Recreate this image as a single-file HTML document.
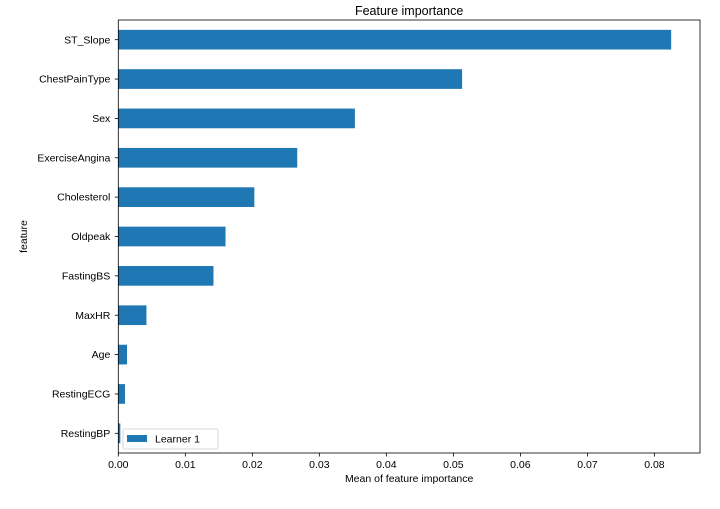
<!DOCTYPE html>
<html><head><meta charset="utf-8"><style>
body{margin:0;background:#fff}
svg{font-family:"Liberation Sans","DejaVu Sans",sans-serif}
</style></head><body>
<svg id="chart" width="720" height="504" viewBox="0 0 720 504"></svg>
<script>
const categories=["ST_Slope","ChestPainType","Sex","ExerciseAngina","Cholesterol","Oldpeak","FastingBS","MaxHR","Age","RestingECG","RestingBP"];
const values=[0.0825,0.0513,0.0353,0.0267,0.0203,0.0160,0.0142,0.0042,0.0013,0.0010,0.0003];
const xTicks=[0,0.01,0.02,0.03,0.04,0.05,0.06,0.07,0.08];
const xTickLabels=["0.00","0.01","0.02","0.03","0.04","0.05","0.06","0.07","0.08"];
const L=118.3,R=700,T=20,B=453,XMAX=0.0868;
const svg=document.getElementById('chart');
const NS='http://www.w3.org/2000/svg';
function x(v){return L+v/XMAX*(R-L);}
const step=(B-T)/categories.length;
function yc(i){return T+step*(i+0.5);}
function mk(tag,a,txt){const e=document.createElementNS(NS,tag);for(const k in a)e.setAttribute(k,a[k]);if(txt!==undefined)e.textContent=txt;svg.appendChild(e);return e;}
const title=mk('text',{x:(L+R)/2,y:15,'text-anchor':'middle','font-size':12.5},'Feature importance');


categories.forEach((c,i)=>{
  const b=mk('rect',{x:L,y:yc(i)-step*0.25,width:x(values[i])-L,height:step*0.5,fill:'#1f77b4'});
  
  
  mk('line',{x1:L-3.5,x2:L,y1:yc(i),y2:yc(i),stroke:'#000','stroke-width':0.8});
  const t=mk('text',{x:L-8,y:yc(i)+3.6,'text-anchor':'end','font-size':10.5},c);
  
  
});
xTicks.forEach((v,i)=>{
  mk('line',{x1:x(v),x2:x(v),y1:B,y2:B+3.5,stroke:'#000','stroke-width':0.8});
  const t=mk('text',{x:x(v),y:B+15,'text-anchor':'middle','font-size':10.5},xTickLabels[i]);
  
  
});
const fr=mk('rect',{x:L,y:T,width:R-L,height:B-T,fill:'none',stroke:'#000','stroke-width':0.8});


const xt=mk('text',{x:(L+R)/2,y:482,'text-anchor':'middle','font-size':10.5},'Mean of feature importance');


const yt=mk('text',{x:27,y:(T+B)/2,'text-anchor':'middle','font-size':10.5,transform:`rotate(-90 27 ${(T+B)/2})`},'feature');


const lg=mk('rect',{x:123,y:429,width:95,height:20,rx:2,fill:'#fff','fill-opacity':0.8,stroke:'#ccc','stroke-width':0.8});


const lp=mk('rect',{x:127,y:435,width:20,height:7,fill:'#1f77b4'});


const lt=mk('text',{x:155,y:442.5,'font-size':10.5},'Learner 1');


</script>
</body></html>
